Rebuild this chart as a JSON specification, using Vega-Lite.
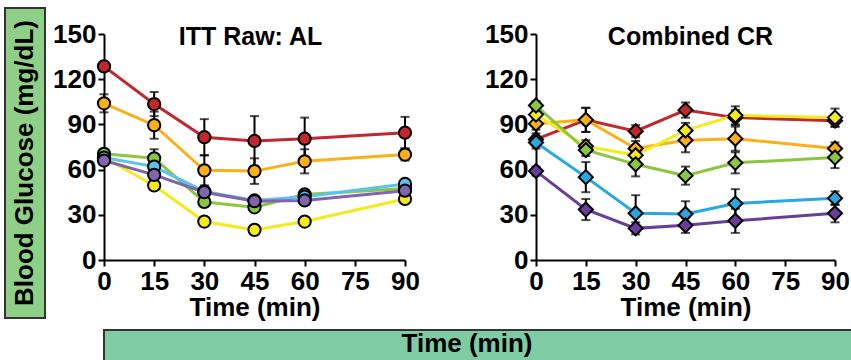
{
  "$schema": "https://vega.github.io/schema/vega-lite/v6.json",
  "padding": {"left": 4, "top": 7, "right": 0, "bottom": 0},
  "background": "white",
  "datasets": {
    "al": [
      {"series": "red", "time": 0, "value": 128.5, "err": 3},
      {"series": "red", "time": 15, "value": 103.5, "err": 8},
      {"series": "red", "time": 30, "value": 81.5, "err": 12},
      {"series": "red", "time": 45, "value": 79, "err": 16.5},
      {"series": "red", "time": 60, "value": 80.5, "err": 14},
      {"series": "red", "time": 90, "value": 84.5, "err": 10.5},
      {"series": "orange", "time": 0, "value": 104, "err": 6},
      {"series": "orange", "time": 15, "value": 89.5, "err": 9},
      {"series": "orange", "time": 30, "value": 59.5, "err": 10},
      {"series": "orange", "time": 45, "value": 59, "err": 8.5},
      {"series": "orange", "time": 60, "value": 65.5, "err": 8},
      {"series": "orange", "time": 90, "value": 70, "err": 4},
      {"series": "yellow", "time": 0, "value": 68, "err": 2},
      {"series": "yellow", "time": 15, "value": 49.5, "err": 2},
      {"series": "yellow", "time": 30, "value": 25.5, "err": 2},
      {"series": "yellow", "time": 45, "value": 20, "err": 2},
      {"series": "yellow", "time": 60, "value": 25.5, "err": 2},
      {"series": "yellow", "time": 90, "value": 40.5, "err": 2},
      {"series": "green", "time": 0, "value": 70.5, "err": 2},
      {"series": "green", "time": 15, "value": 67.5, "err": 6},
      {"series": "green", "time": 30, "value": 38.5, "err": 3},
      {"series": "green", "time": 45, "value": 35, "err": 2},
      {"series": "green", "time": 60, "value": 43.5, "err": 2},
      {"series": "green", "time": 90, "value": 47.5, "err": 2},
      {"series": "cyan", "time": 0, "value": 68, "err": 2},
      {"series": "cyan", "time": 15, "value": 62, "err": 3},
      {"series": "cyan", "time": 30, "value": 45.5, "err": 2},
      {"series": "cyan", "time": 45, "value": 39.5, "err": 2},
      {"series": "cyan", "time": 60, "value": 42, "err": 2},
      {"series": "cyan", "time": 90, "value": 50.5, "err": 2},
      {"series": "purple", "time": 0, "value": 66, "err": 2},
      {"series": "purple", "time": 15, "value": 56.5, "err": 3},
      {"series": "purple", "time": 30, "value": 45, "err": 3},
      {"series": "purple", "time": 45, "value": 39, "err": 2},
      {"series": "purple", "time": 60, "value": 39.5, "err": 2},
      {"series": "purple", "time": 90, "value": 46, "err": 2}
    ],
    "cr": [
      {"series": "red", "time": 0, "value": 80, "err": 4},
      {"series": "red", "time": 15, "value": 93, "err": 8},
      {"series": "red", "time": 30, "value": 85.5, "err": 4},
      {"series": "red", "time": 45, "value": 99.5, "err": 5},
      {"series": "red", "time": 60, "value": 94.5, "err": 5},
      {"series": "red", "time": 90, "value": 92.5, "err": 4},
      {"series": "orange", "time": 0, "value": 90.5, "err": 4},
      {"series": "orange", "time": 15, "value": 93, "err": 8},
      {"series": "orange", "time": 30, "value": 74, "err": 5},
      {"series": "orange", "time": 45, "value": 79.5, "err": 8},
      {"series": "orange", "time": 60, "value": 80.5, "err": 8},
      {"series": "orange", "time": 90, "value": 74, "err": 4},
      {"series": "yellow", "time": 0, "value": 96.5, "err": 4},
      {"series": "yellow", "time": 15, "value": 75.5, "err": 4},
      {"series": "yellow", "time": 30, "value": 69.5, "err": 4},
      {"series": "yellow", "time": 45, "value": 86, "err": 5},
      {"series": "yellow", "time": 60, "value": 96, "err": 6},
      {"series": "yellow", "time": 90, "value": 94.5, "err": 6},
      {"series": "green", "time": 0, "value": 102.5, "err": 3},
      {"series": "green", "time": 15, "value": 73, "err": 4},
      {"series": "green", "time": 30, "value": 63.5, "err": 8},
      {"series": "green", "time": 45, "value": 56, "err": 6},
      {"series": "green", "time": 60, "value": 64.5, "err": 7},
      {"series": "green", "time": 90, "value": 68, "err": 7},
      {"series": "blue", "time": 0, "value": 78, "err": 4},
      {"series": "blue", "time": 15, "value": 55, "err": 10},
      {"series": "blue", "time": 30, "value": 31, "err": 12},
      {"series": "blue", "time": 45, "value": 30.5, "err": 8.5},
      {"series": "blue", "time": 60, "value": 37.5, "err": 9.5},
      {"series": "blue", "time": 90, "value": 41, "err": 4.5},
      {"series": "violet", "time": 0, "value": 59, "err": 3},
      {"series": "violet", "time": 15, "value": 33.5, "err": 7},
      {"series": "violet", "time": 30, "value": 21, "err": 4},
      {"series": "violet", "time": 45, "value": 23, "err": 5},
      {"series": "violet", "time": 60, "value": 26, "err": 8},
      {"series": "violet", "time": 90, "value": 31, "err": 6}
    ]
  },
  "hconcat": [
    {
      "width": 40,
      "height": 310,
      "view": {"fill": "#8fcf88", "stroke": "#333333", "strokeWidth": 2},
      "data": {"values": [{"label": "Blood Glucose (mg/dL)"}]},
      "mark": {"type": "text", "angle": 270, "font": "Liberation Sans", "fontSize": 26, "fontWeight": "bold", "color": "black", "align": "center", "baseline": "middle"},
      "encoding": {"text": {"field": "label", "type": "nominal"}}
    },
    {
      "vconcat": [
        {
          "width": 1,
          "height": 1,
          "data": {"values": []},
          "mark": {"type": "point", "opacity": 0},
          "encoding": {}
        },
        {
          "vconcat": [
            {
              "hconcat": [
                {
                  "width": 301,
                  "height": 226,
                  "title": {"text": "ITT Raw: AL", "font": "Liberation Sans", "fontSize": 25, "fontWeight": "bold", "color": "black", "frame": "group", "anchor": "middle", "offset": -29, "dx": -4},
                  "data": {"name": "al"},
                  "layer": [
                    {
                      "mark": {"type": "errorbar", "color": "black", "rule": {"strokeWidth": 2}, "ticks": {"size": 9, "thickness": 2, "color": "black"}},
                      "encoding": {
                        "x": {"field": "time", "type": "quantitative"},
                        "y": {"field": "value", "type": "quantitative"},
                        "yError": {"field": "err"}
                      }
                    },
                    {
                      "mark": {"type": "line", "strokeWidth": 3},
                      "encoding": {
                        "x": {"field": "time", "type": "quantitative"},
                        "y": {"field": "value", "type": "quantitative"},
                        "color": {"field": "series", "type": "nominal", "legend": null,
                          "scale": {"domain": ["red", "orange", "yellow", "green", "cyan", "purple"], "range": ["#c1272d", "#fbb116", "#f4ea1c", "#8cc53f", "#5ac3ec", "#8064ae"]}}
                      }
                    },
                    {
                      "mark": {"type": "point", "shape": "circle", "filled": true, "opacity": 1, "size": 150, "stroke": "black", "strokeWidth": 2},
                      "encoding": {
                        "x": {"field": "time", "type": "quantitative", "title": "Time (min)",
                          "scale": {"domain": [0, 90], "nice": false},
                          "axis": {"values": [0, 15, 30, 45, 60, 75, 90], "labelFlush": false, "labelOverlap": false, "labelPadding": 2, "titlePadding": 0, "tickSize": 6}},
                        "y": {"field": "value", "type": "quantitative", "title": null,
                          "scale": {"domain": [0, 150], "nice": false},
                          "axis": {"values": [0, 30, 60, 90, 120, 150], "labelFlush": false, "labelOverlap": false, "labelPadding": 2, "tickSize": 6}},
                        "fill": {"field": "series", "type": "nominal", "legend": null,
                          "scale": {"domain": ["red", "orange", "yellow", "green", "cyan", "purple"], "range": ["#c1272d", "#fbb116", "#f4ea1c", "#8cc53f", "#5ac3ec", "#8064ae"]}}
                      }
                    }
                  ]
                },
                {
                  "width": 299,
                  "height": 226,
                  "title": {"text": "Combined CR", "font": "Liberation Sans", "fontSize": 25, "fontWeight": "bold", "color": "black", "frame": "group", "anchor": "middle", "offset": -29, "dx": 5},
                  "data": {"name": "cr"},
                  "layer": [
                    {
                      "mark": {"type": "errorbar", "color": "black", "rule": {"strokeWidth": 2}, "ticks": {"size": 9, "thickness": 2, "color": "black"}},
                      "encoding": {
                        "x": {"field": "time", "type": "quantitative"},
                        "y": {"field": "value", "type": "quantitative"},
                        "yError": {"field": "err"}
                      }
                    },
                    {
                      "mark": {"type": "line", "strokeWidth": 3},
                      "encoding": {
                        "x": {"field": "time", "type": "quantitative"},
                        "y": {"field": "value", "type": "quantitative"},
                        "color": {"field": "series", "type": "nominal", "legend": null,
                          "scale": {"domain": ["red", "orange", "yellow", "green", "blue", "violet"], "range": ["#c1272d", "#fbb116", "#f4ea1c", "#8cc53f", "#26a9e0", "#6b3d9a"]}}
                      }
                    },
                    {
                      "mark": {"type": "point", "shape": "diamond", "filled": true, "opacity": 1, "size": 200, "stroke": "black", "strokeWidth": 2},
                      "encoding": {
                        "x": {"field": "time", "type": "quantitative", "title": "Time (min)",
                          "scale": {"domain": [0, 90], "nice": false},
                          "axis": {"values": [0, 15, 30, 45, 60, 75, 90], "labelFlush": false, "labelOverlap": false, "labelPadding": 2, "titlePadding": 0, "tickSize": 6}},
                        "y": {"field": "value", "type": "quantitative", "title": null,
                          "scale": {"domain": [0, 150], "nice": false},
                          "axis": {"values": [0, 30, 60, 90, 120, 150], "labelFlush": false, "labelOverlap": false, "labelPadding": 2, "tickSize": 6}},
                        "fill": {"field": "series", "type": "nominal", "legend": null,
                          "scale": {"domain": ["red", "orange", "yellow", "green", "blue", "violet"], "range": ["#c1272d", "#fbb116", "#f4ea1c", "#8cc53f", "#26a9e0", "#6b3d9a"]}}
                      }
                    }
                  ]
                }
              ],
              "spacing": 131,
              "bounds": "flush",
              "resolve": {"scale": {"color": "independent", "fill": "independent"}}
            },
            {
              "width": 750,
              "height": 36,
              "view": {"fill": "#7fcba3", "stroke": "#333333", "strokeWidth": 2},
              "data": {"values": [{"label": "Time (min)"}]},
              "mark": {"type": "text", "font": "Liberation Sans", "fontSize": 26, "fontWeight": "bold", "color": "black", "align": "center", "baseline": "middle", "dx": -12, "dy": -4},
              "encoding": {"text": {"field": "label", "type": "nominal"}}
            }
          ],
          "spacing": 9
        }
      ],
      "spacing": 12
    }
  ],
  "spacing": 6,
  "config": {
    "view": {"stroke": null},
    "axis": {
      "labelFont": "Liberation Sans", "labelFontSize": 26, "labelFontWeight": "bold", "labelColor": "black",
      "titleFont": "Liberation Sans", "titleFontSize": 26, "titleFontWeight": "bold", "titleColor": "black",
      "domainColor": "black", "domainWidth": 2, "tickColor": "black", "tickWidth": 2, "grid": false
    }
  }
}
